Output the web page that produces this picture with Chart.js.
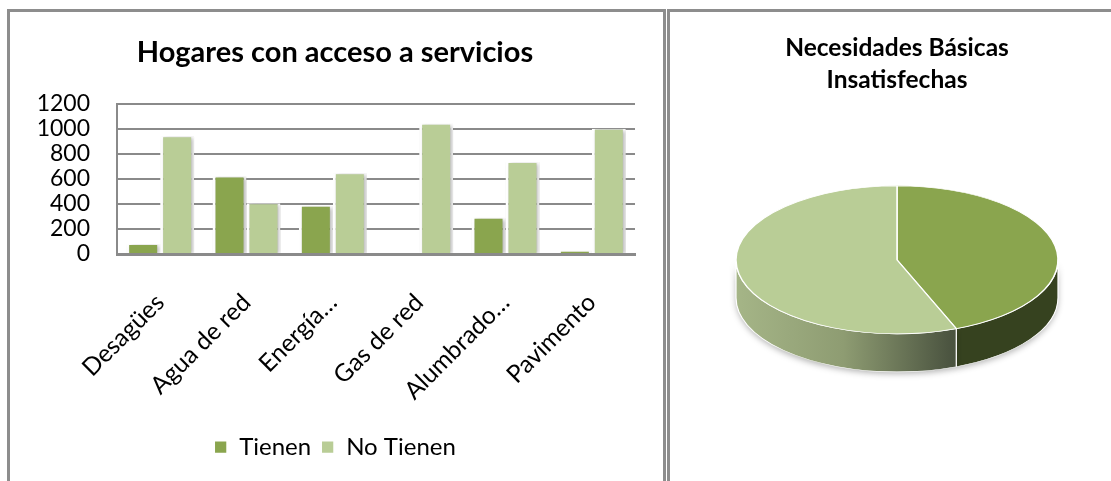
<!DOCTYPE html>
<html><head><meta charset="utf-8">
<script src="https://cdn.jsdelivr.net/npm/chart.js@4.4.1/dist/chart.umd.min.js"></script>
<style>
html,body{margin:0;padding:0;background:#fff;width:1111px;height:481px;overflow:hidden;position:relative}
.panel{position:absolute;box-sizing:border-box;border:3px solid #8d8d8d;}
#p1{left:7px;top:9px;width:659px;height:520px;}
#p2{left:667px;top:9px;width:470px;height:520px;}
canvas{position:absolute}
#c1{left:10px;top:12px}
#c2{left:670px;top:12px}
</style></head><body>
<div class="panel" id="p1"></div><div class="panel" id="p2"></div>
<canvas id="c1" width="652" height="469"></canvas>
<canvas id="c2" width="441" height="469"></canvas>
<script>
// ---- data ----
const categories = ['Desagües', 'Agua de red', 'Energía…', 'Gas de red', 'Alumbrado…', 'Pavimento'];
const tienen = [80, 620, 385, 0, 290, 25];
const noTienen = [940, 405, 645, 1040, 735, 1000];
const seriesNames = ['Tienen', 'No Tienen'];
const yMin = 0, yMax = 1200, yStep = 200;
const pieLabels = ['Tienen', 'No Tienen'];
const pieValues = [44, 56];
const barTitle = 'Hogares con acceso a servicios';
const pieTitle = ['Necesidades Básicas', 'Insatisfechas'];

const DARK = '#8aa54e', LIGHT = '#b9cd96';
Chart.defaults.font.family = 'Lato, "Liberation Sans", sans-serif';
Chart.defaults.color = '#000';
Chart.defaults.animation = false;

const barShadow = {
  id: 'barShadow',
  beforeDatasetsDraw(c) { const x = c.ctx; x.save(); x.shadowColor = 'rgba(0,0,0,0.28)'; x.shadowBlur = 4; x.shadowOffsetX = 2; x.shadowOffsetY = 1; },
  afterDatasetsDraw(c) { c.ctx.restore(); }
};
const barBorder = { left: 3, right: 3, top: 1, bottom: 0 };

new Chart(document.getElementById('c1'), {
  type: 'bar',
  data: {
    labels: categories,
    datasets: [
      { label: seriesNames[0], data: tienen, backgroundColor: DARK, borderColor: '#fff', borderWidth: barBorder },
      { label: seriesNames[1], data: noTienen, backgroundColor: LIGHT, borderColor: '#fff', borderWidth: barBorder }
    ]
  },
  options: {
    responsive: false, devicePixelRatio: 1,
    categoryPercentage: 0.787, barPercentage: 1.0,
    layout: { padding: { left: 25, right: 27, top: 0, bottom: 12 } },
    plugins: {
      title: { display: true, text: barTitle, font: { size: 29, weight: 'bold', lineHeight: 1.2 }, padding: { top: 23, bottom: 34 }, color: '#000' },
      legend: { position: 'bottom', labels: { boxWidth: 13, boxHeight: 13, font: { size: 24 }, padding: 10, color: '#000' } },
      tooltip: { enabled: false }
    },
    scales: {
      x: {
        grid: { display: false },
        border: { display: true, color: '#8a8a8a', width: 3 },
        ticks: { font: { size: 24.5 }, minRotation: 45, maxRotation: 45, autoSkip: false, padding: 26, color: '#000' },
        afterFit(s) { s.height = 171; }
      },
      y: {
        min: yMin, max: yMax,
        grid: { color: '#8a8a8a', lineWidth: 2, drawTicks: false },
        border: { display: true, color: '#8a8a8a', width: 2 },
        ticks: { stepSize: yStep, autoSkip: false, font: { size: 23, lineHeight: 1 }, padding: 27, color: '#000', callback: v => String(v) },
        afterFit(s) { s.width = 82; }
      }
    }
  },
  plugins: [barShadow]
});

function visibleRanges(a0, a1) {
  const out = [];
  for (let k = -1; k <= 1; k++) {
    const lo = Math.max(a0, 2 * Math.PI * k), hi = Math.min(a1, Math.PI + 2 * Math.PI * k);
    if (hi > lo) out.push([lo, hi]);
  }
  return out;
}
const pie3d = {
  id: 'pie3d',
  beforeDatasetsDraw(chart, args, o) {
    const ctx = chart.ctx, arcs = chart.getDatasetMeta(0).data;
    const cx = arcs[0].x, cy = arcs[0].y, r = arcs[0].outerRadius;
    const s = o.squash, d = o.depth / s;
    ctx.save();
    ctx.translate(cx, cy); ctx.scale(1, s);
    arcs.forEach((arc, i) => {
      visibleRanges(arc.startAngle, arc.endAngle).forEach(([a, b]) => {
        ctx.beginPath();
        ctx.arc(0, 0, r, a, b);
        ctx.lineTo(r * Math.cos(b), r * Math.sin(b) + d);
        ctx.arc(0, d, r, b, a, true);
        ctx.closePath();
        const f = o.sides[i];
        if (Array.isArray(f)) {
          const g = ctx.createLinearGradient(-r, 0, r, 0);
          f.forEach((c, j) => g.addColorStop(j / (f.length - 1), c));
          ctx.fillStyle = g;
        } else ctx.fillStyle = f;
        ctx.shadowColor = 'rgba(0,0,0,0.3)'; ctx.shadowBlur = 6; ctx.shadowOffsetY = 2;
        ctx.fill();
        ctx.shadowColor = 'rgba(0,0,0,0)';
        ctx.strokeStyle = '#fff'; ctx.lineWidth = 1.2; ctx.stroke();
      });
    });
    ctx.restore();
    ctx.save();
    ctx.translate(cx, cy); ctx.scale(1, s); ctx.translate(-cx, -cy);
  },
  afterDatasetsDraw(chart) { chart.ctx.restore(); }
};

new Chart(document.getElementById('c2'), {
  type: 'pie',
  data: {
    labels: pieLabels,
    datasets: [{ data: pieValues, backgroundColor: [DARK, LIGHT], borderColor: '#fff', borderWidth: 1.5, hoverOffset: 0, radius: 161, clip: false }]
  },
  options: {
    responsive: false, devicePixelRatio: 1,
    layout: { padding: { left: 13, right: 0, top: 0, bottom: 67 } },
    plugins: {
      title: { display: true, text: pieTitle, font: { size: 24.5, weight: 'bold', lineHeight: 1.3 }, padding: { top: 20, bottom: 10 }, color: '#000' },
      legend: { display: false },
      tooltip: { enabled: false },
      pie3d: { squash: 74 / 161, depth: 38, sides: ['#36421f', ['#a5b587', '#8e9c72', '#4b5440', '#3a4230']] }
    }
  },
  plugins: [pie3d]
});
</script>
</body></html>
